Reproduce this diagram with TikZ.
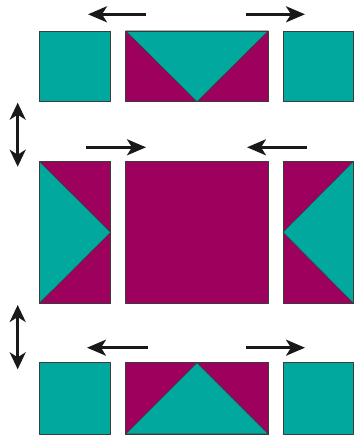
\documentclass[tikz,border=0pt]{standalone}
\usetikzlibrary{arrows.meta}
\definecolor{tealc}{RGB}{0,168,157}
\definecolor{magc}{RGB}{158,0,93}
\definecolor{edgec}{RGB}{60,60,60}
\begin{document}
\begin{tikzpicture}[x=1pt,y=-1pt,
  edge/.style={draw=edgec,line width=0.6pt,line join=round},
  tealfill/.style={fill=tealc},
  magfill/.style={fill=magc},
  mover/.style={line width=2.6pt,draw=black!90,-{Stealth[length=19pt,width=16pt,inset=5pt]}},
  swapper/.style={line width=2.6pt,draw=black!90,{Stealth[length=17pt,width=16pt,inset=5pt]}-{Stealth[length=17pt,width=16pt,inset=5pt]}}]
\useasboundingbox (0,0) rectangle (354,436);
% top row
\filldraw[edge,tealfill] (39.3,31) rectangle (110.7,101.7);
\filldraw[edge,magfill] (125.7,31) rectangle (268.3,101.7);
\filldraw[edge,tealfill] (125.7,31) -- (268.3,31) -- (197,101.7) -- cycle;
\draw[edge] (125.7,31) rectangle (268.3,101.7);
\filldraw[edge,tealfill] (283,31) rectangle (353.4,101.7);
% middle row
\filldraw[edge,magfill] (39.3,161.3) rectangle (110.7,303.3);
\filldraw[edge,tealfill] (39.3,161.3) -- (110.7,232.3) -- (39.3,303.3) -- cycle;
\draw[edge] (39.3,161.3) rectangle (110.7,303.3);
\filldraw[edge,magfill] (125.7,161.3) rectangle (268.3,303.3);
\filldraw[edge,magfill] (283,161.3) rectangle (353.4,303.3);
\filldraw[edge,tealfill] (353.4,161.3) -- (283,232.3) -- (353.4,303.3) -- cycle;
\draw[edge] (283,161.3) rectangle (353.4,303.3);
% bottom row
\filldraw[edge,tealfill] (39.3,362.7) rectangle (110.7,434);
\filldraw[edge,magfill] (125.7,362.7) rectangle (268.3,434);
\filldraw[edge,tealfill] (125.7,434) -- (197,362.7) -- (268.3,434) -- cycle;
\draw[edge] (125.7,362.7) rectangle (268.3,434);
\filldraw[edge,tealfill] (283,362.7) rectangle (353.4,434);
% arrow end points
\coordinate (t1s) at (146,14.3);  \coordinate (t1e) at (88,14.3);
\coordinate (t2s) at (246,14.3);  \coordinate (t2e) at (305,14.3);
\coordinate (m1s) at (86,147.3);  \coordinate (m1e) at (146,147.3);
\coordinate (m2s) at (307,147.3); \coordinate (m2e) at (247,147.3);
\coordinate (b1s) at (148,347.7); \coordinate (b1e) at (87,347.7);
\coordinate (b2s) at (246,347.7); \coordinate (b2e) at (305,347.7);
\coordinate (v1a) at (17.7,102.7); \coordinate (v1b) at (17.7,166.7);
\coordinate (v2a) at (17.7,305); \coordinate (v2b) at (17.7,369.3);
\draw[mover] (t1s) -- (t1e);
\draw[mover] (t2s) -- (t2e);
\draw[mover] (m1s) -- (m1e);
\draw[mover] (m2s) -- (m2e);
\draw[mover] (b1s) -- (b1e);
\draw[mover] (b2s) -- (b2e);
\draw[swapper] (v1a) -- (v1b);
\draw[swapper] (v2a) -- (v2b);
\end{tikzpicture}
\end{document}
